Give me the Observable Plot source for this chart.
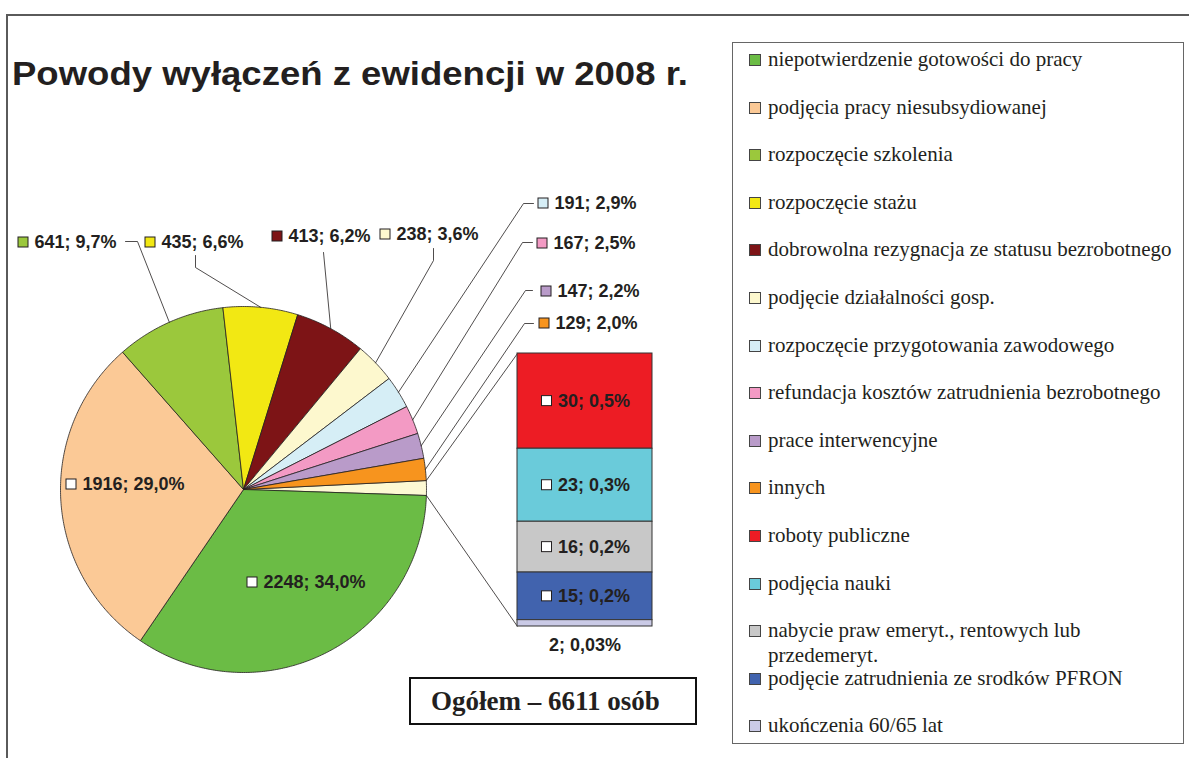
<!DOCTYPE html>
<html><head><meta charset="utf-8">
<script src="https://cdn.jsdelivr.net/npm/d3@7"></script>
<script src="https://cdn.jsdelivr.net/npm/@observablehq/plot@0.6"></script>
<style>
body{margin:0;background:#fff;}
#page{position:relative;width:1189px;height:758px;overflow:hidden;background:#fff;font-family:"Liberation Sans",Arial,sans-serif;color:#231f20;}
#page svg{position:absolute;left:0;top:0;}
.frameTop{position:absolute;left:6px;top:14px;width:1183px;height:0;border-top:2px solid #5a5a5a;}
.frameLeft{position:absolute;left:6px;top:14px;width:0;height:744px;border-left:2px solid #5a5a5a;}
#title{position:absolute;left:12px;top:55px;font:bold 33px "Liberation Sans",Arial,sans-serif;white-space:nowrap;transform-origin:0 0;}
#legend{position:absolute;left:732px;top:42px;width:450px;height:700px;border:1.5px solid #666;background:#fff;}
.lkey{position:absolute;width:10px;height:10px;border:1px solid #444;}
.ltxt{position:absolute;font:21px "Liberation Serif","Times New Roman",serif;white-space:pre-line;line-height:25px;color:#231f20;}
#total{position:absolute;left:409px;top:677px;width:288px;height:48px;border:2px solid #111;box-sizing:border-box;font:bold 27px "Liberation Serif","Times New Roman",serif;text-align:left;padding-left:20px;line-height:44px;}
</style></head><body><div id="page"></div>
<script>
// ---------- data ----------
const categories = [
  "niepotwierdzenie gotowości do pracy",
  "podjęcia pracy niesubsydiowanej",
  "rozpoczęcie szkolenia",
  "rozpoczęcie stażu",
  "dobrowolna rezygnacja ze statusu bezrobotnego",
  "podjęcie działalności gosp.",
  "rozpoczęcie przygotowania zawodowego",
  "refundacja kosztów zatrudnienia bezrobotnego",
  "prace interwencyjne",
  "innych",
  "roboty publiczne",
  "podjęcia nauki",
  "nabycie praw emeryt., rentowych lub\nprzedemeryt.",
  "podjęcie zatrudnienia ze srodków PFRON",
  "ukończenia 60/65 lat"
];
const values = [2248, 1916, 641, 435, 413, 238, 191, 167, 147, 129, 30, 23, 16, 15, 2];
const percents = ["34,0%", "29,0%", "9,7%", "6,6%", "6,2%", "3,6%", "2,9%", "2,5%", "2,2%", "2,0%", "0,5%", "0,3%", "0,2%", "0,2%", "0,03%"];
const colors = ["#6bbc45", "#fbc996", "#9bc83c", "#f2e813", "#7d1416", "#fdf8ce", "#d6eef6", "#f39ac4", "#b99bc9", "#f7941e", "#ed1c24", "#6acbda", "#c8c8c8", "#4163ae", "#cacae6"];
const otherColor = "#fdf9d3";
const pieCount = 10;            // first 10 categories in the pie, the rest in the bar
const title = "Powody wyłączeń z ewidencji w 2008 r.";
const totalLabel = "Ogółem – 6611 osób";

// ---------- layout ----------
const W = 1189, H = 758;
const cx = 243, cy = 489, R = 183;
const startDeg = -2.8;
const bar = {x1: 517, x2: 652, top: 353, bottom: 626};
// per-pie-slice label layout (marker centre) and leader attach / elbow points
const labelLayout = [
  {inside: true, mx: 252, my: 582},
  {inside: true, mx: 71, my: 484},
  {mx: 23, my: 242, ax: 125, ay: 241, ex: 137, ey: 241},
  {mx: 150, my: 242, ax: 195, ay: 255, ex: 195, ey: 267},
  {mx: 277, my: 236, ax: 323, ay: 252},
  {mx: 385, my: 234, ax: 433, ay: 248, ex: 433, ey: 260},
  {mx: 543, my: 203, ax: 533, ay: 203, ex: 523, ey: 203},
  {mx: 542, my: 243, ax: 532, ay: 242, ex: 522, ey: 242},
  {mx: 546, my: 291, ax: 532, ay: 290, ex: 525, ey: 290},
  {mx: 544, my: 323, ax: 533, ay: 323, ex: 524, ey: 323}
];
const keyHalf = 5, textGap = 11, labelSize = 18;

// ---------- pie geometry ----------
const pieVals = values.slice(0, pieCount);
const otherVal = d3.sum(values.slice(pieCount));
const pieItems = [{id: "other", value: otherVal, color: otherColor}]
  .concat(pieVals.map((v, i) => ({id: i, value: v, color: colors[i]})));
const a0 = startDeg * Math.PI / 180;
const arcs = d3.pie().sort(null).value(d => d.value).startAngle(a0).endAngle(a0 + 2 * Math.PI)(pieItems);
const pt = (a, r = R) => ({x: cx + r * Math.cos(a), y: cy + r * Math.sin(a)});
const slicePts = [];
for (const a of arcs) {
  const id = a.data.id, color = a.data.color;
  slicePts.push({id, color, ...pt(0, 0)});
  const n = Math.max(2, Math.ceil((a.endAngle - a.startAngle) / 0.01));
  for (let k = 0; k <= n; k++) slicePts.push({id, color, ...pt(a.startAngle + (a.endAngle - a.startAngle) * k / n)});
  slicePts.push({id, color, ...pt(0, 0)});
}
const arcById = new Map(arcs.map(a => [a.data.id, a]));

// labels + leaders
const keys = [], texts = [], leaders = [];
pieVals.forEach((v, i) => {
  const L = labelLayout[i];
  keys.push({x: L.mx, y: L.my, fill: L.inside ? "#ffffff" : colors[i]});
  texts.push({x: L.mx + textGap, y: L.my, text: `${v}; ${percents[i]}`});
  if (!L.inside) {
    const a = arcById.get(i);
    const mid = (a.startAngle + a.endAngle) / 2;
    const end = pt(mid);
    leaders.push({id: i, x: L.ax, y: L.ay});
    if (L.ex != null) leaders.push({id: i, x: L.ex, y: L.ey});
    leaders.push({id: i, x: end.x, y: end.y});
  }
});

// bar of pie (stacked)
const barVals = values.slice(pieCount);
const k = (bar.bottom - bar.top) / otherVal;
const cum = d3.cumsum(barVals);
const barData = barVals.map((v, j) => ({
  y1: bar.top + (cum[j] - v) * k, y2: bar.top + cum[j] * k, fill: colors[pieCount + j], v, p: percents[pieCount + j]
}));
const barCx = (bar.x1 + bar.x2) / 2;
barData.forEach(d => {
  if (d.v >= 10) {
    const ym = (d.y1 + d.y2) / 2;
    keys.push({x: barCx - 38, y: ym, fill: "#ffffff"});
    texts.push({x: barCx - 38 + textGap, y: ym, text: `${d.v}; ${d.p}`});
  }
});
const smallBar = barData.filter(d => d.v < 10).map(d => ({x: barCx, y: bar.bottom + 19, text: `${d.v}; ${d.p}`}));

// connectors from "other" slice to the bar
const oa = arcById.get("other");
const pA = pt(oa.startAngle), pB = pt(oa.endAngle);
const connectors = [
  {x1: pA.x, y1: pA.y, x2: bar.x1, y2: bar.top},
  {x1: pB.x, y1: pB.y, x2: bar.x1, y2: bar.bottom}
];

const ink = "#231f20";
const font = "Liberation Sans, Arial, sans-serif";
const chart = Plot.plot({
  width: W, height: H, margin: 0,
  x: {domain: [0, W], range: [0, W], axis: null},
  y: {domain: [0, H], range: [0, H], axis: null},
  color: {type: "identity"},
  style: {background: "transparent", overflow: "visible"},
  marks: [
    Plot.line(slicePts, {x: "x", y: "y", z: "id", fill: "color", stroke: ink, strokeWidth: 0.8, curve: "linear"}),
    Plot.line(leaders, {x: "x", y: "y", z: "id", stroke: ink, strokeWidth: 0.8}),
    Plot.link(connectors, {x1: "x1", y1: "y1", x2: "x2", y2: "y2", stroke: ink, strokeWidth: 0.8}),
    Plot.rect(barData, {x1: bar.x1, x2: bar.x2, y1: "y1", y2: "y2", fill: "fill", stroke: "#333", strokeWidth: 1}),
    Plot.rect(keys, {x1: d => d.x - keyHalf, x2: d => d.x + keyHalf, y1: d => d.y - keyHalf, y2: d => d.y + keyHalf, fill: "fill", stroke: ink, strokeWidth: 1}),
    Plot.text(texts, {x: "x", y: "y", text: "text", textAnchor: "start", lineAnchor: "middle", fontSize: labelSize, fontWeight: "bold", fill: ink, fontFamily: font}),
    Plot.text(smallBar, {x: "x", y: "y", text: "text", textAnchor: "middle", lineAnchor: "middle", fontSize: labelSize, fontWeight: "bold", fill: ink, fontFamily: font})
  ]
});

const page = document.getElementById("page");
page.append(chart);
page.insertAdjacentHTML("beforeend", `<div class="frameTop"></div><div class="frameLeft"></div>`);
const t = document.createElement("div"); t.id = "title"; t.textContent = title; page.append(t);
const tw = t.getBoundingClientRect().width;
t.style.transform = `scaleX(${676 / tw})`;
const lg = document.createElement("div"); lg.id = "legend"; page.append(lg);
const legTop = 42, step = 47.6, first = 59;
categories.forEach((c, i) => {
  const yc = first + step * i - legTop;
  const key = document.createElement("div"); key.className = "lkey";
  key.style.left = (748 - 732) + "px"; key.style.top = (yc - 6) + "px"; key.style.background = colors[i];
  const tx = document.createElement("div"); tx.className = "ltxt";
  tx.style.left = (767 - 732) + "px"; tx.style.top = (yc - 13) + "px"; tx.textContent = c;
  lg.append(key, tx);
});
const tot = document.createElement("div"); tot.id = "total"; tot.textContent = totalLabel; page.append(tot);
</script></body></html>
